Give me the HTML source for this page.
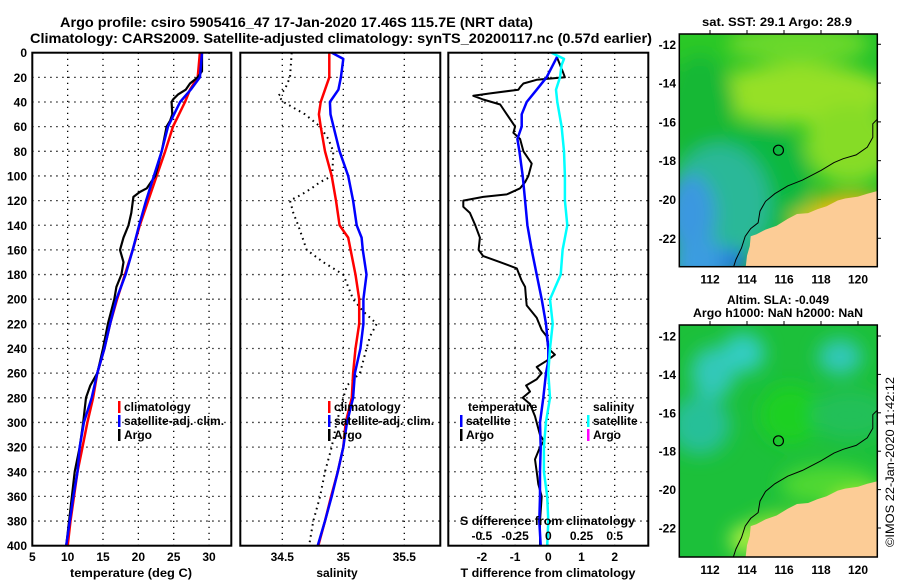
<!DOCTYPE html>
<html><head><meta charset="utf-8"><style>
html,body{margin:0;padding:0;background:#fff;}
svg{display:block;font-family:"Liberation Sans",sans-serif;font-weight:bold;}
</style></head><body>
<svg id="fig" width="900" height="580" viewBox="0 0 900 580" xmlns="http://www.w3.org/2000/svg">
<defs>
<filter id="blur1" x="-20%" y="-20%" width="140%" height="140%"><feGaussianBlur stdDeviation="9"/></filter>
<filter id="blur2" x="-20%" y="-20%" width="140%" height="140%"><feGaussianBlur stdDeviation="12"/></filter>
<clipPath id="clipMap1"><rect x="679.3" y="34" width="198" height="232.7"/></clipPath>
<clipPath id="clipMap2"><rect x="679.3" y="325" width="198" height="232"/></clipPath>
</defs>
<rect x="0" y="0" width="900" height="580" fill="#fff"/>
<text x="60" y="27" font-size="14" textLength="473" lengthAdjust="spacingAndGlyphs">Argo profile: csiro 5905416_47 17-Jan-2020 17.46S 115.7E (NRT data)</text>
<text x="30" y="43" font-size="14" textLength="622" lengthAdjust="spacingAndGlyphs">Climatology: CARS2009. Satellite-adjusted climatology: synTS_20200117.nc (0.57d earlier)</text>
<g id="grids"></g>
<g id="series"></g>
<g id="axes"></g>
<g id="maps"></g>
</svg>
<script>
// ---------- data ----------
var tDepth = [0,20,30,40,60,80,100,120,140,160,180,200,220,240,260,280,300,320,340,360,380,400];
var tClim  = [28.7,28.4,27.3,26.6,24.9,23.8,22.6,21.4,20.2,19.2,18.1,17.0,16.0,15.2,14.2,13.6,12.8,12.1,11.4,10.9,10.4,10.0];
var tSat   = [29.0,28.7,27.4,25.9,24.2,23.3,22.2,21.1,20.1,19.2,18.2,16.9,16.0,15.2,14.2,13.4,12.3,11.7,11.4,10.8,10.3,9.8];
var argoDepth = [0,10,15,20,25,30,34,38,40,50,55,60,80,100,110,113,117,130,140,150,160,170,180,190,200,220,240,250,260,270,280,300,320,340,360,380,400];
var argoTemp  = [29.0,29.0,29.0,28.4,27.3,26.7,25.6,24.9,24.7,24.8,24.5,24.0,23.3,22.4,21.2,20.2,19.3,19.0,18.6,17.9,17.4,17.9,17.6,16.9,16.6,15.7,15.0,14.6,14.2,13.2,12.6,12.2,11.7,11.0,10.6,10.2,9.8];

var sDepth = [0,5,20,30,40,50,60,80,100,120,140,150,160,180,200,220,240,260,280,300,320,340,360,380,400];
var sClim  = [34.885,34.885,34.885,34.85,34.815,34.80,34.815,34.85,34.905,34.94,34.97,35.04,35.06,35.10,35.13,35.13,35.10,35.08,35.07,35.02,35.0,34.955,34.90,34.85,34.795];
var sSat   = [34.905,35.0,34.98,34.96,34.89,34.895,34.92,34.97,35.04,35.08,35.11,35.15,35.16,35.19,35.165,35.165,35.14,35.095,35.08,35.03,35.0,34.955,34.905,34.85,34.79];
var argoSDepth = [0,20,30,35,40,50,60,70,80,100,105,110,115,120,130,140,160,170,180,200,210,220,230,240,260,270,280,300,320,340,360,380,400];
var argoSal    = [34.577,34.563,34.52,34.467,34.51,34.686,34.81,34.877,34.918,34.91,34.81,34.74,34.66,34.563,34.59,34.63,34.70,34.836,35.0,35.08,35.164,35.274,35.22,35.19,35.137,35.03,35.0,34.946,34.905,34.85,34.81,34.754,34.72];

var dDepth = [3,20,30,40,50,60,70,80,100,120,140,160,180,200,220,240,250,260,280,300,320,340,360,380,400];
var dTSat  = [0.27,-0.05,-0.35,-0.65,-0.8,-0.8,-0.93,-0.87,-0.77,-0.70,-0.63,-0.5,-0.35,-0.2,-0.07,0,0,-0.07,-0.15,-0.25,-0.23,-0.25,-0.25,-0.27,-0.23];
var sDiffDepth = [0,5,10,20,30,40,60,80,100,120,140,160,180,200,220,240,260,280,300,320,340,360,380,400];
var dSSat      = [0.025,0.118,0.10,0.088,0.058,0.068,0.10,0.118,0.125,0.125,0.143,0.108,0.093,0.013,0.033,0.013,0,0.013,-0.018,-0.033,-0.033,-0.008,0,-0.008];
var argoDDepth = [3,15,20,22,25,28,30,33,35,38,42,50,60,65,70,80,90,100,105,110,115,117,120,125,130,140,150,160,165,170,175,185,190,200,205,215,225,230,240,245,250,255,260,265,270,275,280,285,295,305,310,315,320,330,340,350,360,380,400];
var argoDT     = [0.25,0.43,0.5,-0.35,-0.75,-0.85,-0.9,-1.75,-2.26,-1.96,-1.45,-1.25,-1.0,-1.05,-0.85,-0.75,-0.5,-0.6,-0.7,-0.85,-1.25,-1.96,-2.56,-2.56,-2.36,-2.2,-2.06,-2.1,-1.96,-1.45,-0.95,-0.8,-0.7,-0.67,-0.65,-0.35,-0.2,-0.05,0,0.2,-0.05,-0.35,-0.2,-0.35,-0.67,-0.55,-0.77,-0.55,-0.4,-0.3,-0.25,-0.13,-0.25,-0.4,-0.35,-0.3,-0.2,-0.25,-0.25];

var depthTicks = [0,20,40,60,80,100,120,140,160,180,200,220,240,260,280,300,320,340,360,380,400];
var tTicks = [5,10,15,20,25,30];
var sTicks = [34.5,35,35.5];
var dTicks = [-2,-1,0,1,2];
var sdTicks = [-0.5,-0.25,0,0.25,0.5];
var sdTickLabels = ["-0.5","-0.25","0","0.25","0.5"];
var lonTicks = [112,114,116,118,120];
var latTicks = [-12,-14,-16,-18,-20,-22];
var argoLon = 115.7, argoLat = -17.46;
var landLon = [121.1,120.5,120,119.3,118.9,118.3,117.8,117.3,116.7,116.2,115.6,115.0,114.5,114.2,114.15,114.0,113.9,121.1];
var landLat = [-19.55,-19.7,-19.85,-19.95,-20.05,-20.35,-20.5,-20.7,-20.75,-21.0,-21.35,-21.55,-21.8,-21.9,-22.4,-22.9,-23.7,-23.7];
var contLon = [121.1,120.8,120.8,120.5,119.9,119.2,118.7,118.0,117.0,116.2,115.5,115.0,114.7,114.6,114.2,113.9,113.7,113.4,113.2];
var contLat = [-15.8,-16.1,-16.8,-17.3,-17.7,-17.9,-18.1,-18.5,-19.0,-19.3,-19.7,-20.1,-20.6,-21.2,-21.5,-21.9,-22.5,-23.1,-23.7];

// ---------- scales ----------
var NS = "http://www.w3.org/2000/svg";
function yD(d){return 52.7 + d*1.2325;}
function xT(t){return 32.3 + (t-5)*7.07;}
function xS(s){return 282.3 + (s-34.5)*122;}
function xD(v){return 548.3 + v*33.2;}
function xSD(v){return xD(v*4);}
function mx(lon){return 679.3 + (lon-110.34)*18.5;}
function my1(lat){return 34 + (-11.47-lat)*19.4;}
function my2(lat){return 336 + (-12-lat)*19.2;}

function mk(tag, attrs, parent){var e=document.createElementNS(NS,tag);for(var k in attrs)e.setAttribute(k,attrs[k]);parent.appendChild(e);return e;}
function txt(s, attrs, parent){var e=mk('text',attrs,parent);e.textContent=s;return e;}

var G=document.getElementById('grids'), S=document.getElementById('series'), A=document.getElementById('axes'), M=document.getElementById('maps');
var panels=[{x0:32.3,x1:231.3,name:'temperature-panel'},{x0:240.3,x1:440.3,name:'salinity-panel'},{x0:448.3,x1:648.3,name:'difference-panel'}];
var y0=yD(0), y1=yD(400);

// gridlines
function dotted(x1,y1_,x2,y2,name){var l=mk('line',{x1:x1,y1:y1_,x2:x2,y2:y2,stroke:'#000','stroke-width':1.3,'stroke-dasharray':'1.3 4.7'},G);

}
panels.forEach(function(p){depthTicks.forEach(function(d){if(d>0&&d<400)dotted(p.x0,yD(d),p.x1,yD(d),'depth-gridline');});});
tTicks.forEach(function(t){if(t>5)dotted(xT(t),y0,xT(t),y1,'temperature-gridline');});
sTicks.forEach(function(s){dotted(xS(s),y0,xS(s),y1,'salinity-gridline');});
dTicks.forEach(function(v){dotted(xD(v),y0,xD(v),y1,'difference-gridline');});

// series
function line(xs, ys, fx, color, w, name, dash){
  var pts=xs.map(function(v,i){return fx(v).toFixed(1)+','+yD(ys[i]).toFixed(1);}).join(' ');
  var a={points:pts,fill:'none',stroke:color,'stroke-width':w,'stroke-linejoin':'round'};
  if(dash)a['stroke-dasharray']=dash;
  var e=mk('polyline',a,S);
  
  
}
line(tClim,tDepth,xT,'#f00',2.5,'temperature-climatology-line');
line(argoTemp,argoDepth,xT,'#000',2.2,'temperature-argo-line');
line(tSat,tDepth,xT,'#00f',2.5,'temperature-satellite-line');
line(argoSal,argoSDepth,xS,'#000',2,'salinity-argo-line','1.6 4');
line(sClim,sDepth,xS,'#f00',2.5,'salinity-climatology-line');
line(sSat,sDepth,xS,'#00f',2.5,'salinity-satellite-line');
line(argoDT,argoDDepth,xD,'#000',2,'temp-diff-argo-line');
line(dTSat,dDepth,xD,'#00f',2.5,'temp-diff-satellite-line');
line(dSSat,sDiffDepth,xSD,'#0ff',2.5,'sal-diff-satellite-line');

// frames
panels.forEach(function(p){var r=mk('rect',{x:p.x0,y:y0,width:p.x1-p.x0,height:y1-y0,fill:'none',stroke:'#000','stroke-width':2},A);

});

// depth tick labels
depthTicks.forEach(function(d){var t=txt(String(d),{x:27,y:yD(d)+4.5,'font-size':12,'text-anchor':'end'},A);

});
tTicks.forEach(function(v){var t=txt(String(v),{x:xT(v),y:561,'font-size':12,'text-anchor':'middle'},A);

});
sTicks.forEach(function(v){var t=txt(String(v),{x:xS(v),y:561,'font-size':12,'text-anchor':'middle'},A);

});
dTicks.forEach(function(v){var t=txt(String(v),{x:xD(v),y:561,'font-size':12,'text-anchor':'middle'},A);

});
sdTicks.forEach(function(v,i){var t=txt(sdTickLabels[i],{x:xSD(v),y:540,'font-size':12,'text-anchor':'middle'},A);

});

function label(s,x,y,name,anchor,len){var a={x:x,y:y,'font-size':12,'text-anchor':anchor||'start'};if(len){a.textLength=len;a.lengthAdjust='spacingAndGlyphs';}var t=txt(s,a,A);

return t;}
label('temperature (deg C)',131,577,'temperature-axis-title','middle',122);
label('salinity',337,577,'salinity-axis-title','middle');
label('T difference from climatology',548,577,'temp-diff-axis-title','middle',175);
label('S difference from climatology',460,525,'sal-diff-axis-title','start',175);

// legends
function legItem(bx,ty,color,s,name){var r=mk('rect',{x:bx,y:ty-10,width:2.5,height:12,fill:color},A);


label(s,bx+6,ty,name);}
legItem(118,411,'#f00','climatology','legend-climatology');
legItem(118,425,'#00f','satellite-adj. clim.','legend-satellite-adj');
legItem(118,439,'#000','Argo','legend-argo');
legItem(328,411,'#f00','climatology','legend-climatology-sal');
legItem(328,425,'#00f','satellite-adj. clim.','legend-satellite-adj-sal');
legItem(328,439,'#000','Argo','legend-argo-sal');
label('temperature',468,411,'legend-temperature-heading');
legItem(460,425,'#00f','satellite','legend-temp-satellite');
legItem(460,439,'#000','Argo','legend-temp-argo');
label('salinity',593,411,'legend-salinity-heading');
legItem(587,425,'#0ff','satellite','legend-sal-satellite');
legItem(587,439,'#f0f','Argo','legend-sal-argo');

// maps
function blob(g,cx,cy,rx,ry,color,name){var e=mk('ellipse',{cx:cx,cy:cy,rx:rx,ry:ry,fill:color},g);

}
function drawMap(top,bottom,my,clip,name,blobs,base){
  var g=mk('g',{'clip-path':'url(#'+clip+')'},M);
  
  
  mk('rect',{x:679.3,y:top,width:198,height:bottom-top,fill:base},g);
  var bg=mk('g',{filter:'url(#blur1)'},g);
  blobs.forEach(function(b){blob(bg,b[0],top+b[1],b[2],b[3],b[4],'map-field-region');});
  var land=mk('polygon',{points:landLon.map(function(l,i){return mx(l).toFixed(1)+','+my(landLat[i]).toFixed(1);}).join(' '),fill:'#fccc96'},g);
  
  
  var c=mk('polyline',{points:contLon.map(function(l,i){return mx(l).toFixed(1)+','+my(contLat[i]).toFixed(1);}).join(' '),fill:'none',stroke:'#000','stroke-width':1},g);
  
  
  var ci=mk('circle',{cx:mx(argoLon),cy:my(argoLat),r:5,fill:'none',stroke:'#000','stroke-width':1.2},g);
  
  
  var fr=mk('rect',{x:679.3,y:top,width:198,height:bottom-top,fill:'none',stroke:'#000','stroke-width':1.5},M);
  
  
  lonTicks.forEach(function(l){mk('line',{x1:mx(l),y1:top-4,x2:mx(l),y2:top,stroke:'#000','stroke-width':1},M);
    var t=txt(String(l),{x:mx(l),y:bottom+17,'font-size':12,'text-anchor':'middle'},M);
    
    });
  latTicks.forEach(function(l){mk('line',{x1:877.3,y1:my(l),x2:881,y2:my(l),stroke:'#000','stroke-width':1},M);
    var t=txt(String(l),{x:676,y:my(l)+4.5,'font-size':12,'text-anchor':'end'},M);
    
    });
}
drawMap(34,266.7,my1,'clipMap1','sst-map',[
  [700,10,60,25,'#2ac828'],[800,10,70,20,'#6ad82a'],
  [800,60,90,30,'#96e028'],[850,110,45,40,'#86dc28'],
  [700,80,35,60,'#12b834'],[760,150,50,60,'#10b840'],
  [720,170,50,60,'#2cb898'],[690,180,25,40,'#3a98e0'],[700,230,30,25,'#3a9ce0'],[735,228,15,12,'#2070e0'],
  [850,172,40,12,'#f0b010'],[820,185,30,10,'#d8c818']
],'#22c22a');
drawMap(325,557,my2,'clipMap2','sla-map',[
  [713,48,22,26,'#30c8b8'],[743,28,22,20,'#30ccc0'],[840,32,22,18,'#30c8b8'],
  [700,100,30,30,'#28c098'],[790,90,30,30,'#1cd020'],[850,90,40,25,'#22c058'],
  [830,160,50,20,'#50d830'],[860,180,30,14,'#a8ec38'],[780,200,30,12,'#8ae030'],[745,215,15,15,'#b0f040']
],'#1cc03a');

var t1=txt('sat. SST: 29.1 Argo: 28.9',{x:777,y:26,'font-size':12,'text-anchor':'middle',textLength:150,lengthAdjust:'spacingAndGlyphs'},M);


var t2=txt('Altim. SLA: -0.049',{x:778,y:304,'font-size':12,'text-anchor':'middle'},M);


var t3=txt('Argo h1000: NaN h2000: NaN',{x:778,y:317,'font-size':12,'text-anchor':'middle',textLength:170,lengthAdjust:'spacingAndGlyphs'},M);


var t4=txt('©IMOS 22-Jan-2020 11:42:12',{x:0,y:0,'font-size':12,'font-weight':'normal',transform:'translate(894,547) rotate(-90)',textLength:170,lengthAdjust:'spacingAndGlyphs'},M);


</script>
</body></html>
